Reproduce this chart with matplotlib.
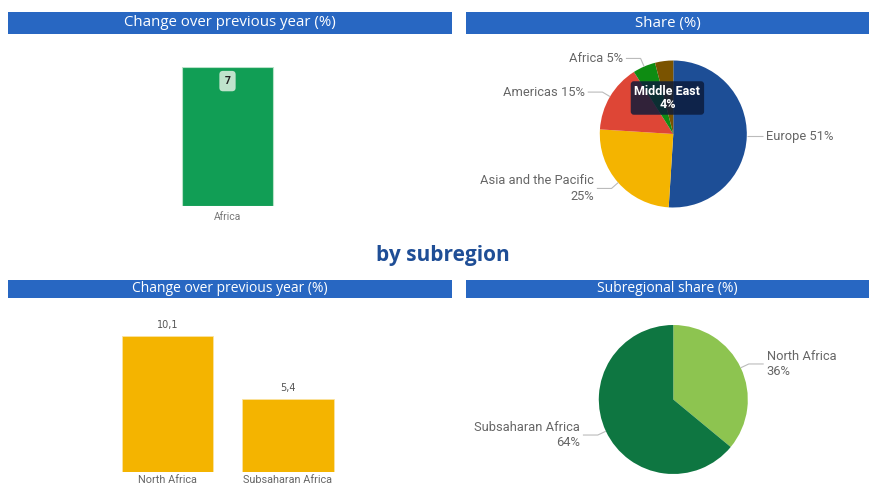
import numpy as np
import matplotlib
matplotlib.use("Agg")
import matplotlib.pyplot as plt
from matplotlib.patches import Rectangle

# ---- data ----
region_bar_cats = ["Africa"]
region_bar_vals = [7]

share_labels = ["Europe", "Asia and the Pacific", "Americas", "Africa", "Middle East"]
share_vals = [51, 25, 15, 5, 4]
share_colors = ["#1D4E96", "#F4B400", "#DE4636", "#0E8C12", "#7A5300"]

sub_cats = ["North Africa", "Subsaharan Africa"]
sub_vals = [10.1, 5.4]

sub_share_labels = ["North Africa", "Subsaharan Africa"]
sub_share_vals = [36, 64]
sub_share_colors = ["#8DC450", "#0E7641"]

W, H = 869, 487
fig = plt.figure(figsize=(W / 100, H / 100), dpi=100)
fig.patch.set_facecolor("white")

HEAD_BLUE = "#2867C2"
GRAY = "#666666"
LABEL_FONT = ["Roboto", "DejaVu Sans"]
HEAD_FONT = ["Open Sans", "DejaVu Sans"]


def px_axes(x0, y0, x1, y1):
    return fig.add_axes([x0 / W, 1 - y1 / H, (x1 - x0) / W, (y1 - y0) / H])


def header(x0, y0, x1, y1, text, size):
    fig.patches.append(Rectangle((x0 / W, 1 - y1 / H), (x1 - x0) / W, (y1 - y0) / H,
                                 transform=fig.transFigure, facecolor=HEAD_BLUE,
                                 edgecolor="none", zorder=0))
    fig.text((x0 + x1) / 2 / W, 1 - (y0 + y1) / 2 / H, text, color="white",
             ha="center", va="center", fontsize=size, family=HEAD_FONT)


header(8, 12, 452, 34, "Change over previous year (%)", 10.8)
header(466, 12, 869, 34, "Share (%)", 10.8)
header(8, 280, 452, 298, "Change over previous year (%)", 10)
header(466, 280, 869, 298, "Subregional share (%)", 10)

fig.text(443 / W, 1 - 255 / H, "by subregion", color="#1F4E96", ha="center",
         va="center", fontsize=15, fontweight="bold", family=HEAD_FONT)


def clean(ax):
    for s in ax.spines.values():
        s.set_visible(False)
    ax.set_yticks([])
    ax.tick_params(axis="x", length=0)


# ---- top-left: single bar ----
ax1 = px_axes(136, 66.5, 319, 205.5)
x1 = np.arange(len(region_bar_cats))
ax1.bar(x1, region_bar_vals, width=0.5, color="#119E55", edgecolor="#B8E2C8", linewidth=0.8)
ax1.set_xlim(-0.5, 0.5)
ax1.set_ylim(0, max(region_bar_vals))
clean(ax1)
ax1.set_xticks(x1)
ax1.set_xticklabels(region_bar_cats, color="#777777", fontsize=7.5, family=LABEL_FONT)
ax1.tick_params(axis="x", pad=5)
for xi, v in zip(x1, region_bar_vals):
    ax1.annotate(f"{v}", (xi, v), xytext=(0, -10.5), textcoords="offset points",
                 ha="center", va="center", fontsize=7.5, fontweight="bold", color="#222222",
                 family=LABEL_FONT,
                 bbox=dict(boxstyle="round,pad=0.5,rounding_size=0.35",
                           facecolor="#BFE3CC", edgecolor="none"))

# ---- bottom-left: subregion bars ----
ax3 = px_axes(107.4, 336, 348.1, 472)
x3 = np.arange(len(sub_cats))
ax3.bar(x3, sub_vals, width=0.76, color="#F4B400", edgecolor="#FBE3A0", linewidth=0.6)
ax3.set_xlim(-0.5, 1.5)
ax3.set_ylim(0, max(sub_vals))
clean(ax3)
ax3.set_xticks(x3)
ax3.set_xticklabels(sub_cats, color="#666666", fontsize=7.8, family=LABEL_FONT)
ax3.tick_params(axis="x", pad=2.5)
for xi, v in zip(x3, sub_vals):
    ax3.annotate(f"{v:.1f}".replace(".", ","), (xi, v), xytext=(0, 8),
                 textcoords="offset points", ha="center", va="center",
                 fontsize=7, color="#555555", family=["DejaVu Sans"])


def pie_with_labels(ax, vals, colors, texts, skip=()):
    wedges, _ = ax.pie(vals, colors=colors, startangle=90, counterclock=False,
                       radius=1, wedgeprops=dict(linewidth=0))
    ax.set_xlim(-1, 1)
    ax.set_ylim(-1, 1)
    ax.set_aspect("equal")
    ax.axis("off")
    for i, w in enumerate(wedges):
        if i in skip:
            continue
        ang = np.deg2rad((w.theta1 + w.theta2) / 2)
        ux, uy = np.cos(ang), np.sin(ang)
        side = 1 if ux >= 0 else -1
        ex, ey = 1.12 * ux, 1.12 * uy
        if abs(uy) < 0.15:
            ex, ey = 1.0 * ux + 0.02 * side, uy
        hx = ex + side * 0.2
        ax.plot([ux, ex, hx], [uy, ey, ey], color="#BBBBBB", lw=0.8,
                clip_on=False, solid_capstyle="butt")
        ax.text(hx + side * 0.04, ey, texts[i], ha="left" if side > 0 else "right",
                va="center", fontsize=9.3, color=GRAY, family=LABEL_FONT,
                linespacing=1.25, clip_on=False)
    return wedges


# ---- top-right: regional share pie ----
ax2 = px_axes(673.3 - 73.5, 134 - 73.5, 673.3 + 73.5, 134 + 73.5)
share_texts = [f"{share_labels[0]} {share_vals[0]}%",
               f"{share_labels[1]}\n{share_vals[1]}%",
               f"{share_labels[2]} {share_vals[2]}%",
               f"{share_labels[3]} {share_vals[3]}%",
               ""]
pie_with_labels(ax2, share_vals, share_colors, share_texts, skip=(4,))
ax2.text(-0.08, 0.49, f"{share_labels[4]}\n{share_vals[4]}%", ha="center", va="center",
         fontsize=9, fontweight="bold", color="white", family=LABEL_FONT,
         linespacing=1.0,
         bbox=dict(boxstyle="round,pad=0.3,rounding_size=0.25",
                   facecolor="#0B1A3A", alpha=0.82, edgecolor="none"))

# ---- bottom-right: subregional share pie ----
ax4 = px_axes(673.3 - 74.5, 399.5 - 74.5, 673.3 + 74.5, 399.5 + 74.5)
sub_texts = [f"{l}\n{v}%" for l, v in zip(sub_share_labels, sub_share_vals)]
pie_with_labels(ax4, sub_share_vals, sub_share_colors, sub_texts)

fig.savefig("out.png", dpi=100, facecolor="white")
